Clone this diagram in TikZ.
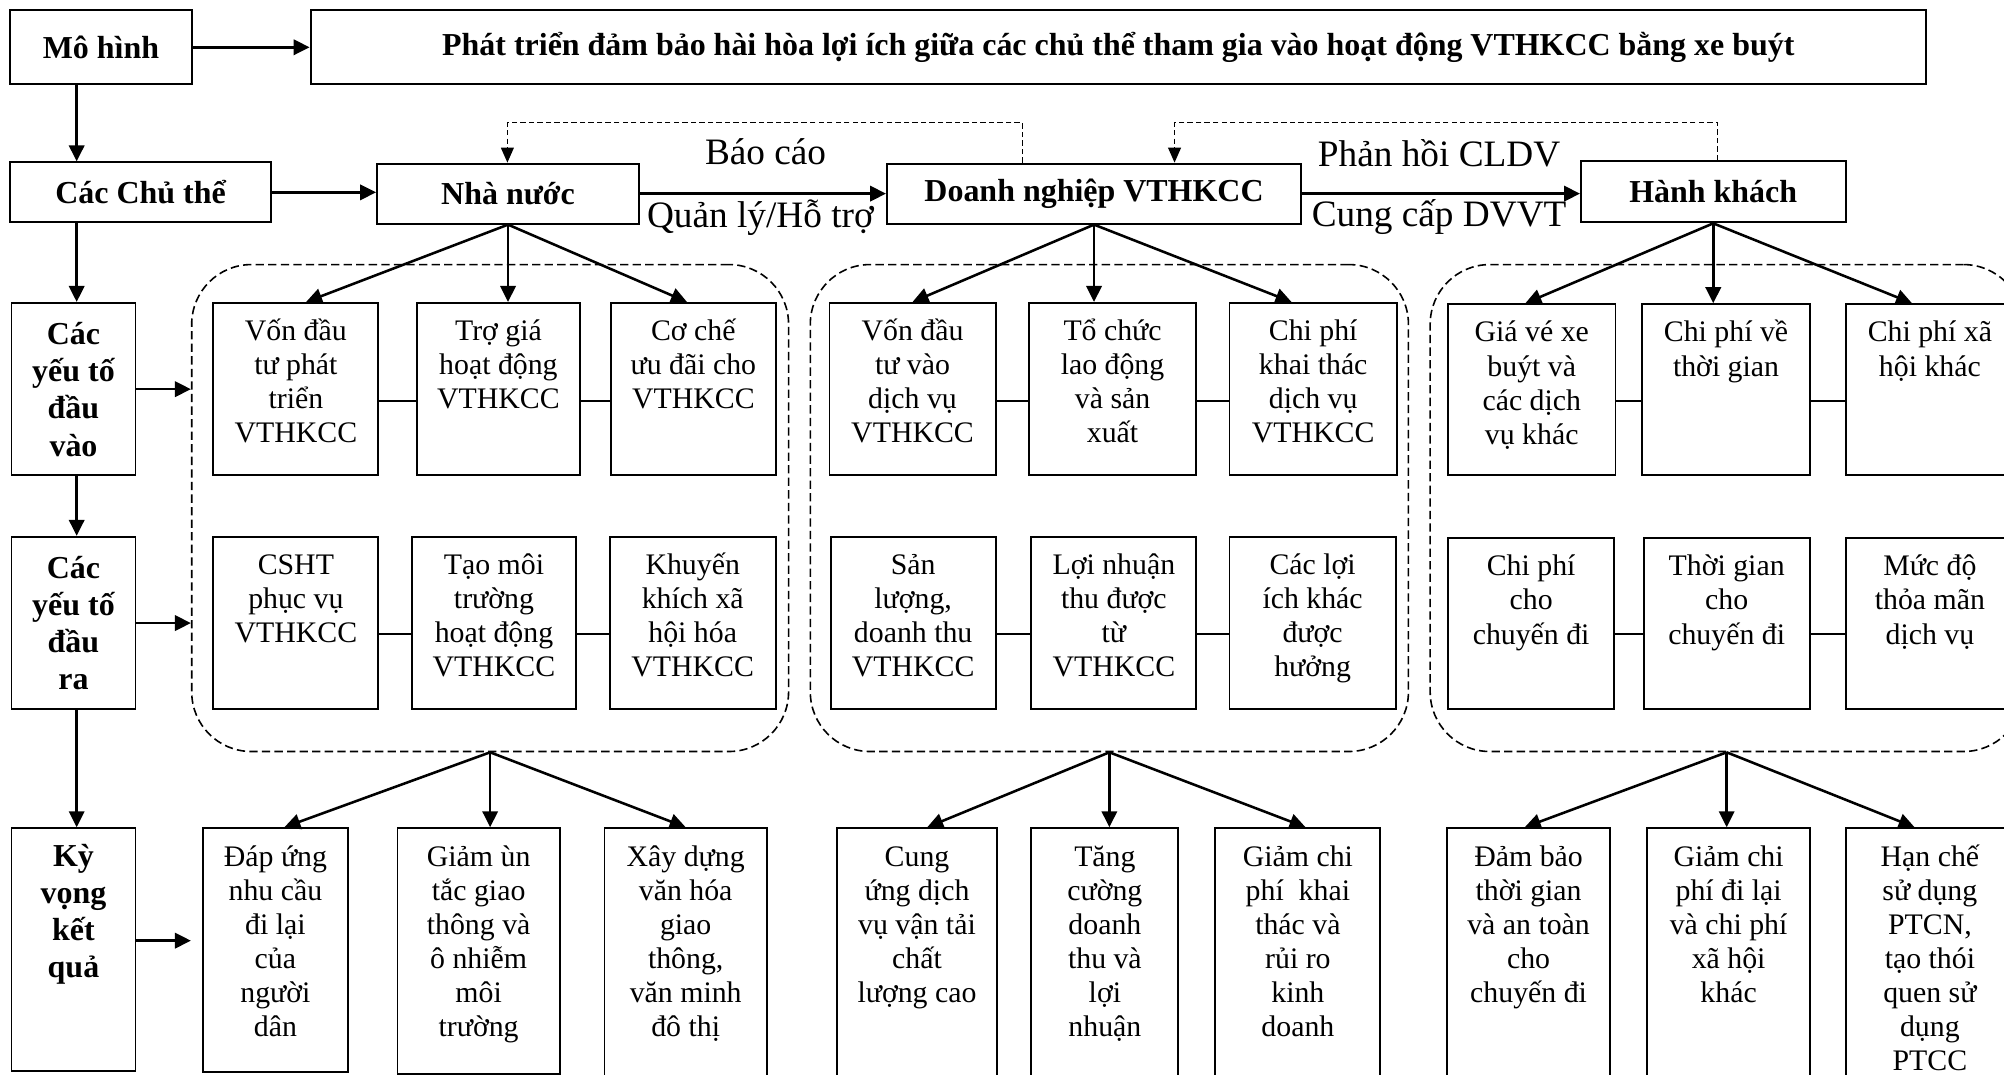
\documentclass[tikz,border=0pt]{standalone}
\usepackage{fontspec}
\setmainfont{Liberation Serif}
\usetikzlibrary{arrows.meta,fit,calc}
\newcommand\fl{\rule{0pt}{13pt}}
\begin{document}
\begin{tikzpicture}[x=0.6pt,y=-0.6pt,
  bx/.style={draw, line width=0.9pt, inner sep=0pt},
  tx/.style={anchor=north, align=center, inner sep=0pt, yshift=-5pt, font=\fontsize{14}{16}\selectfont},
  txb/.style={tx, font=\bfseries\fontsize{15}{17.5}\selectfont},
  ctr/.style={anchor=center, align=center, inner sep=0pt, font=\bfseries\fontsize{15}{17.5}\selectfont},
  grp/.style={draw, line width=0.75pt, dash pattern=on 3.9pt off 2pt, rounded corners=28pt, inner sep=0pt},
  arr/.style={line width=1.2pt, -{Triangle[length=7.5pt,width=7.2pt]}},
  fbk/.style={line width=0.65pt, dash pattern=on 2.5pt off 1.5pt, -{Triangle[length=7pt,width=6pt]}},
  ln/.style={line width=0.9pt},
  lbl/.style={inner sep=0pt, font=\fontsize{17.5}{20}\selectfont}
]
\useasboundingbox (0,0) rectangle (1568,841);
\clip (0,0) rectangle (1568,841);

% helper coordinates
\coordinate (colx) at (60,0);
\coordinate (r3) at (0,314);
\coordinate (r4) at (0,496);
\coordinate (fa) at (800,96);
\coordinate (fb) at (397,96);
\coordinate (fc) at (1344,96);
\coordinate (fd) at (919,96);

% row 1 and 2
\node[bx, fit={(8,8)(150,66)}, label={[ctr]center:{Mô hình}}] (mh) {};
\node[bx, fit={(243,8)(1507,66)}, label={[ctr]center:{Phát triển đảm bảo hài hòa lợi ích giữa các chủ thể tham gia vào hoạt động VTHKCC bằng xe buýt}}] (pt) {};
\node[bx, fit={(8,127)(212,174)}, label={[ctr]center:{Các Chủ thể}}] (cct) {};
\node[bx, fit={(295,128)(500,175)}, label={[ctr]center:{Nhà nước}}] (nn) {};
\node[bx, fit={(694,128)(1018,175)}, label={[ctr]center:{Doanh nghiệp VTHKCC}}] (dn) {};
\node[bx, fit={(1237,126)(1444,174)}, label={[ctr]center:{Hành khách}}] (hk) {};

% left column
\node[bx, fit={(9,237)(106,372)}, label={[ctr]center:{Các\\yếu tố\\đầu\\vào}}] (dv) {};
\node[bx, fit={(9,420)(106,555)}, label={[ctr]center:{Các\\yếu tố\\đầu\\ra}}] (dr) {};
\node[bx, fit={(9,648)(106,838)}, label={[txb]north:{\fl Kỳ\\vọng\\kết\\quả}}] (kv) {};

% groups
\node[grp, fit={(150,207)(617,588)}] (g1) {};
\node[grp, fit={(634,207)(1102,588)}] (g2) {};
\node[grp, fit={(1119,207)(1583,588)}] (g3) {};

% group 1
\node[bx, fit={(167,237)(296,372)}, label={[tx]north:{\fl Vốn đầu\\tư phát\\triển\\VTHKCC}}] (a1) {};
\node[bx, fit={(326,237)(454,372)}, label={[tx]north:{\fl Trợ giá\\hoạt động\\VTHKCC}}] (a2) {};
\node[bx, fit={(478,237)(607,372)}, label={[tx]north:{\fl Cơ chế\\ưu đãi cho\\VTHKCC}}] (a3) {};
\node[bx, fit={(167,420)(296,555)}, label={[tx]north:{\fl CSHT\\phục vụ\\VTHKCC}}] (b1) {};
\node[bx, fit={(322,420)(451,555)}, label={[tx]north:{\fl Tạo môi\\trường\\hoạt động\\VTHKCC}}] (b2) {};
\node[bx, fit={(477,420)(607,555)}, label={[tx]north:{\fl Khuyến\\khích xã\\hội hóa\\VTHKCC}}] (b3) {};

% group 2
\node[bx, fit={(649,237)(779,372)}, label={[tx]north:{\fl Vốn đầu\\tư vào\\dịch vụ\\VTHKCC}}] (c1) {};
\node[bx, fit={(805,237)(936,372)}, label={[tx]north:{\fl Tổ chức\\lao động\\và sản\\xuất}}] (c2) {};
\node[bx, fit={(962,237)(1093,372)}, label={[tx]north:{\fl Chi phí\\khai thác\\dịch vụ\\VTHKCC}}] (c3) {};
\node[bx, fit={(650,420)(779,555)}, label={[tx]north:{\fl Sản\\lượng,\\doanh thu\\VTHKCC}}] (d1) {};
\node[bx, fit={(807,420)(936,555)}, label={[tx]north:{\fl Lợi nhuận\\thu được\\từ\\VTHKCC}}] (d2) {};
\node[bx, fit={(962,420)(1092,555)}, label={[tx]north:{\fl Các lợi\\ích khác\\được\\hưởng}}] (d3) {};

% group 3
\node[bx, fit={(1133,238)(1264,372)}, label={[tx]north:{\fl Giá vé xe\\buýt và\\các dịch\\vụ khác}}] (e1) {};
\node[bx, fit={(1285,238)(1416,372)}, label={[tx]north:{\fl Chi phí về\\thời gian}}] (e2) {};
\node[bx, fit={(1444,238)(1576,372)}, label={[tx]north:{\fl Chi phí xã\\hội khác}}] (e3) {};
\node[bx, fit={(1133,421)(1263,555)}, label={[tx]north:{\fl Chi phí\\cho\\chuyến đi}}] (f1) {};
\node[bx, fit={(1286,421)(1416,555)}, label={[tx]north:{\fl Thời gian\\cho\\chuyến đi}}] (f2) {};
\node[bx, fit={(1444,421)(1576,555)}, label={[tx]north:{\fl Mức độ\\thỏa mãn\\dịch vụ}}] (f3) {};

% row 5
\node[bx, fit={(159,648)(272,839)}, label={[tx]north:{\fl Đáp ứng\\nhu cầu\\đi lại\\của\\người\\dân}}] (h1) {};
\node[bx, fit={(311,648)(438,840)}, label={[tx]north:{\fl Giảm ùn\\tắc giao\\thông và\\ô nhiễm\\môi\\trường}}] (h2) {};
\node[bx, fit={(473,648)(600,848)}, label={[tx]north:{\fl Xây dựng\\văn hóa\\giao\\thông,\\văn minh\\đô thị}}] (h3) {};
\node[bx, fit={(655,648)(780,848)}, label={[tx]north:{\fl Cung\\ứng dịch\\vụ vận tải\\chất\\lượng cao}}] (i1) {};
\node[bx, fit={(807,648)(922,848)}, label={[tx]north:{\fl Tăng\\cường\\doanh\\thu và\\lợi\\nhuận}}] (i2) {};
\node[bx, fit={(951,648)(1080,848)}, label={[tx]north:{\fl Giảm chi\\phí\ \ khai\\thác và\\rủi ro\\kinh\\doanh}}] (i3) {};
\node[bx, fit={(1132,648)(1260,848)}, label={[tx]north:{\fl Đảm bảo\\thời gian\\và an toàn\\cho\\chuyến đi}}] (j1) {};
\node[bx, fit={(1289,648)(1416,848)}, label={[tx]north:{\fl Giảm chi\\phí đi lại\\và chi phí\\xã hội\\khác}}] (j2) {};
\node[bx, fit={(1444,648)(1576,848)}, label={[tx]north:{\fl Hạn chế\\sử dụng\\PTCN,\\tạo thói\\quen sử\\dụng\\PTCC}}] (j3) {};

% edge labels
\node[lbl] (bc) at (599,119) {Báo cáo};
\node[lbl] (ql) at (595,170) {Quản lý/Hỗ trợ};
\node[lbl] (ph) at (1126,120) {Phản hồi CLDV};
\node[lbl] (cc) at (1126,170) {Cung cấp DVVT};

% main arrows
\draw[arr] (mh.east) -- (pt.west);
\draw[arr] (mh.south -| colx) -- (cct.north -| colx);
\draw[arr] (cct.south -| colx) -- (dv.north -| colx);
\draw[arr] (dv.south -| colx) -- (dr.north -| colx);
\draw[arr] (dr.south -| colx) -- (kv.north -| colx);
\draw[arr] (cct.east) -- (cct.east -| nn.west);
\draw[arr] (nn.east) -- (nn.east -| dn.west);
\draw[arr] (dn.east) -- (dn.east -| hk.west);
\draw[arr] (dv.east) -- (dv.east -| g1.west);
\draw[arr] (dr.east) -- (dr.east -| g1.west);
\coordinate (kva) at ($(kv.east)+(0,-7)$);
\draw[arr] (kva) -- (kva -| g1.west);

% feedback
\draw[fbk] (dn.north -| fa) -- (fa) -- (fb) -- (nn.north -| fb);
\draw[fbk] (hk.north -| fc) -- (fc) -- (fd) -- (dn.north -| fd);

% parents to inputs
\draw[arr] (nn.south) -- ($(a1.north)+(8,0)$);
\draw[arr] (nn.south) -- (nn.south |- a2.north);
\draw[arr] (nn.south) -- ($(a3.north)+(-5,0)$);
\draw[arr] (dn.south) -- (c1.north);
\draw[arr] (dn.south) -- (dn.south |- c2.north);
\draw[arr] (dn.south) -- ($(c3.north)+(-17,0)$);
\draw[arr] (hk.south) -- ($(e1.north)+(-5,0)$);
\draw[arr] (hk.south) -- (hk.south |- e2.north);
\draw[arr] (hk.south) -- ($(e3.north)+(-14,0)$);

% groups to results
\draw[arr] (g1.south) -- ($(h1.north)+(7,0)$);
\draw[arr] (g1.south) -- (g1.south |- h2.north);
\draw[arr] (g1.south) -- (h3.north);
\draw[arr] (g2.south) -- ($(i1.north)+(8,0)$);
\draw[arr] (g2.south) -- (g2.south |- i2.north);
\draw[arr] (g2.south) -- ($(i3.north)+(6,0)$);
\draw[arr] (g3.south) -- ($(j1.north)+(-3,0)$);
\draw[arr] (g3.south) -- (g3.south |- j2.north);
\draw[arr] (g3.south) -- ($(j3.north)+(-12,0)$);

% links between boxes
\draw[ln] (a1.east |- r3) -- (a2.west |- r3);
\draw[ln] (a2.east |- r3) -- (a3.west |- r3);
\draw[ln] (b1.east |- r4) -- (b2.west |- r4);
\draw[ln] (b2.east |- r4) -- (b3.west |- r4);
\draw[ln] (c1.east |- r3) -- (c2.west |- r3);
\draw[ln] (c2.east |- r3) -- (c3.west |- r3);
\draw[ln] (d1.east |- r4) -- (d2.west |- r4);
\draw[ln] (d2.east |- r4) -- (d3.west |- r4);
\draw[ln] (e1.east |- r3) -- (e2.west |- r3);
\draw[ln] (e2.east |- r3) -- (e3.west |- r3);
\draw[ln] (f1.east |- r4) -- (f2.west |- r4);
\draw[ln] (f2.east |- r4) -- (f3.west |- r4);
\end{tikzpicture}
\end{document}
